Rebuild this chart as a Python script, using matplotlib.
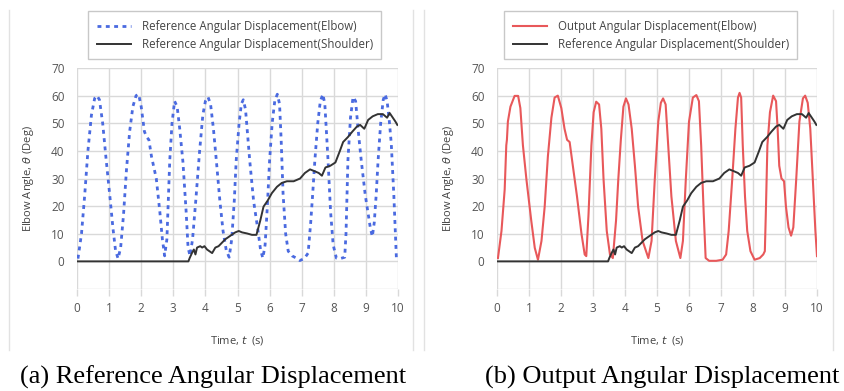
import matplotlib
import matplotlib.pyplot as plt
import numpy as np
from matplotlib.lines import Line2D

matplotlib.use('Agg')

# elbow reference (left panel, blue dotted)
ref_t = [0.03, 0.14, 0.24, 0.34, 0.45, 0.55, 0.62, 0.7, 0.8, 0.91, 1.02, 1.12, 1.2, 1.28,
         1.36, 1.45, 1.54, 1.64, 1.74, 1.84, 1.92, 2.0, 2.1, 2.17, 2.24, 2.32, 2.47, 2.58,
         2.66, 2.73, 2.8, 2.89, 2.96, 3.04, 3.12, 3.2, 3.3, 3.4, 3.46, 3.52, 3.6, 3.7, 3.82,
         3.92, 4.0, 4.08, 4.16, 4.25, 4.34, 4.45, 4.55, 4.65, 4.74, 4.82, 4.9, 4.96, 5.05,
         5.12, 5.18, 5.25, 5.38, 5.5, 5.64, 5.72, 5.79, 5.86, 5.93, 6.0, 6.08, 6.16, 6.24,
         6.31, 6.36, 6.42, 6.5, 6.58, 6.7, 6.83, 6.94, 7.08, 7.2, 7.28, 7.34, 7.41, 7.5,
         7.58, 7.66, 7.72, 7.78, 7.82, 7.9, 7.98, 8.08, 8.2, 8.34, 8.38, 8.44, 8.52, 8.6,
         8.68, 8.74, 8.8, 8.86, 8.91, 8.98, 9.06, 9.14, 9.2, 9.26, 9.32, 9.38, 9.46, 9.54,
         9.6, 9.66, 9.72, 9.79, 9.87, 9.95]
ref_v = [1, 10, 24, 40, 53, 59, 60, 58.5, 50, 36.6, 24, 12, 4, 1,
         5, 17, 33, 47, 56, 60, 60.5, 56, 47, 45, 44, 38, 30, 18,
         8, 2, 8, 36.6, 50, 58, 56, 48, 36, 18, 5, 2, 8, 22, 40,
         53, 58, 59.5, 57, 48, 36.6, 22, 11, 4, 1.5, 8, 22, 36.6, 50,
         57, 58.5, 55, 36.6, 22, 11, 4, 1.2, 6, 20, 36.6, 50, 58, 60.5,
         57, 44, 24.4, 10, 3.7, 2, 1.2, 0.3, 1, 3, 14, 24, 36.6, 50,
         58, 60.5, 57, 45, 36.6, 18, 6, 1.2, 1, 1.5, 10, 36.6, 52, 59.5,
         58, 50, 42.7, 36, 31, 24, 18, 12, 9, 14, 24, 36.6, 50, 58.5,
         60.5, 58, 52, 42.7, 24, 1.2]

# elbow output (right panel, red)
out_t = [0.03, 0.14, 0.24, 0.29, 0.31, 0.34, 0.42, 0.55, 0.66, 0.73, 0.81, 0.92, 1.07,
         1.18, 1.28, 1.39, 1.49, 1.59, 1.7, 1.8, 1.9, 2.01, 2.11, 2.19, 2.27, 2.37, 2.5,
         2.64, 2.74, 2.79, 2.86, 2.95, 3.02, 3.1, 3.19, 3.26, 3.33, 3.43, 3.53, 3.62, 3.72,
         3.79, 3.87, 3.95, 4.03, 4.11, 4.21, 4.31, 4.41, 4.55, 4.73, 4.83, 4.93, 5.04, 5.12,
         5.19, 5.27, 5.35, 5.45, 5.59, 5.73, 5.81, 5.9, 6.0, 6.12, 6.23, 6.31, 6.38, 6.46,
         6.52, 6.63, 6.85, 7.05, 7.16, 7.24, 7.35, 7.45, 7.53, 7.58, 7.63, 7.68, 7.75, 7.82,
         7.92, 8.05, 8.21, 8.32, 8.37, 8.4, 8.45, 8.53, 8.63, 8.72, 8.77, 8.82, 8.89, 8.97,
         9.03, 9.11, 9.19, 9.26, 9.35, 9.45, 9.56, 9.63, 9.71, 9.79, 9.87, 9.95, 10.0]
out_v = [1.2, 11, 26, 42, 44, 50.6, 56, 59.9, 59.9, 55.5, 42, 29.6, 14.8,
         4.9, 0.6, 7.4, 19.8, 38, 52, 59.3, 60, 55.5, 48, 44, 43.2, 34.6, 23.5,
         10, 2.5, 1.9, 17, 42, 54, 57.8, 56.8, 48, 29.6, 11, 2.5, 1.2, 14.8,
         29.6, 44, 56, 59, 56.8, 48, 34.6, 19.8, 7.4, 1.2, 7.4, 29.6, 50.6, 57.4,
         59, 56.8, 42, 23.5, 7.4, 1.2, 7.4, 29.6, 50.6, 59.3, 60.2, 58, 42, 17.3,
         1.2, 0.2, 0.2, 0.6, 2.5, 11, 29.6, 48, 59.3, 61, 59.3, 42, 23.5, 11,
         3.7, 0.6, 1.2, 2.5, 3.7, 17, 42, 54, 60, 58, 48, 34.6, 30, 29,
         19.8, 12.3, 9.3, 12.3, 29.6, 50.6, 59, 60, 57.4, 48, 29.6, 11, 1.9]

# shoulder reference (both panels, black)
sh_t = [0.0, 3.47, 3.51, 3.58, 3.64, 3.69, 3.74, 3.84, 3.9, 3.97, 4.05, 4.21, 4.31,
        4.41, 4.52, 4.62, 4.78, 4.93, 5.04, 5.14, 5.3, 5.45, 5.59, 5.71, 5.81, 5.94,
        6.07, 6.23, 6.38, 6.54, 6.75, 6.95, 7.1, 7.26, 7.39, 7.53, 7.63, 7.74, 7.89,
        8.05, 8.19, 8.29, 8.44, 8.58, 8.72, 8.82, 8.95, 9.07, 9.21, 9.37, 9.53, 9.66,
        9.74, 9.81, 9.92, 9.98]
sh_v = [0, 0, 1.2, 3, 4.3, 2.5, 5, 5.5, 5, 5.5, 4.3, 3, 5,
        5.5, 6.8, 8, 9.3, 10.5, 11, 10.5, 10.1, 9.6, 9.6, 14.8, 19.8, 22,
        24.7, 27, 28.4, 29, 29, 30, 32, 33.3, 32.7, 32, 31, 34, 34.6,
        35.8, 40, 43.2, 45, 47, 48.8, 49.4, 48, 51.2, 52.5, 53.3, 53.3, 52,
        53.7, 52.5, 50.6, 49.4]

x_ticks = list(range(0, 11))
y_ticks = list(range(-10, 80, 10))
y_ticklabels = [''] + [str(v) for v in range(0, 80, 10)]

ui_font = 'Open Sans'
tick_col = '#555555'
grid_col = '#d9d9d9'


def style_axes(ax):
    ax.set_xlim(0, 10)
    ax.set_ylim(-10, 70)
    ax.set_xticks(x_ticks)
    ax.set_yticks(y_ticks)
    ax.set_yticklabels(y_ticklabels)
    ax.grid(True, color=grid_col, linewidth=1)
    ax.set_axisbelow(True)
    for sp in ax.spines.values():
        sp.set_visible(False)
    ax.tick_params(axis='x', length=5, width=1, color=grid_col, pad=4,
                   labelsize=8.5, labelcolor=tick_col)
    ax.tick_params(axis='y', length=0, pad=9, labelsize=8.5, labelcolor=tick_col)
    for lab in ax.get_xticklabels() + ax.get_yticklabels():
        lab.set_family(ui_font)
    ax.set_xlabel('Time, $t$  (s)', fontsize=8, color='#444444', family=ui_font, labelpad=14)
    ax.set_ylabel(r'Elbow Angle, $\theta$ (Deg)', fontsize=8, color='#444444',
                  family=ui_font, labelpad=11)


fig = plt.figure(figsize=(8.44, 3.91), dpi=100)
W, H = 844.0, 391.0

# faint vertical panel borders
for xb in [9, 413, 424, 833]:
    fig.lines.append(Line2D([xb / W, xb / W], [1 - 350 / H, 1 - 10 / H],
                            transform=fig.transFigure, color='#e2e2e2', linewidth=1))

ax_ref = fig.add_axes([77 / W, 1 - 289 / H, 321 / W, 221 / H])
ax_out = fig.add_axes([497 / W, 1 - 289 / H, 320 / W, 221 / H])

ax_ref.plot(ref_t, ref_v, color='#4a6ae0', linewidth=2, linestyle=(0, (1.4, 1.6)),
            label='Reference Angular Displacement(Elbow)')
ax_ref.plot(sh_t, sh_v, color='#333333', linewidth=1.4,
            label='Reference Angular Displacement(Shoulder)')

ax_out.plot(out_t, out_v, color='#e8585a', linewidth=1.5,
            label='Output Angular Displacement(Elbow)')
ax_out.plot(sh_t, sh_v, color='#333333', linewidth=1.4,
            label='Reference Angular Displacement(Shoulder)')

style_axes(ax_ref)
style_axes(ax_out)

# legends sit above the plot area, in figure coords
for ax, x0 in [(ax_ref, 88), (ax_out, 504)]:
    leg = ax.legend(loc='upper left', bbox_to_anchor=(x0 / W, 1 - 11 / H),
                    bbox_transform=fig.transFigure, frameon=True, fancybox=False,
                    prop={'family': ui_font, 'size': 8.3}, handlelength=3.0,
                    borderpad=0.75, labelspacing=0.45, handletextpad=0.9,
                    borderaxespad=0)
    leg.get_frame().set_edgecolor('#bbbbbb')
    leg.get_frame().set_linewidth(1)
    for t in leg.get_texts():
        t.set_color('#444444')

# captions
fig.text(213 / W, 1 - 377 / H, '(a) Reference Angular Displacement', ha='center', va='center',
         family='Liberation Serif', fontsize=19)
fig.text(662 / W, 1 - 377 / H, '(b) Output Angular Displacement', ha='center', va='center',
         family='Liberation Serif', fontsize=19)

fig.savefig('out.png', dpi=100)
